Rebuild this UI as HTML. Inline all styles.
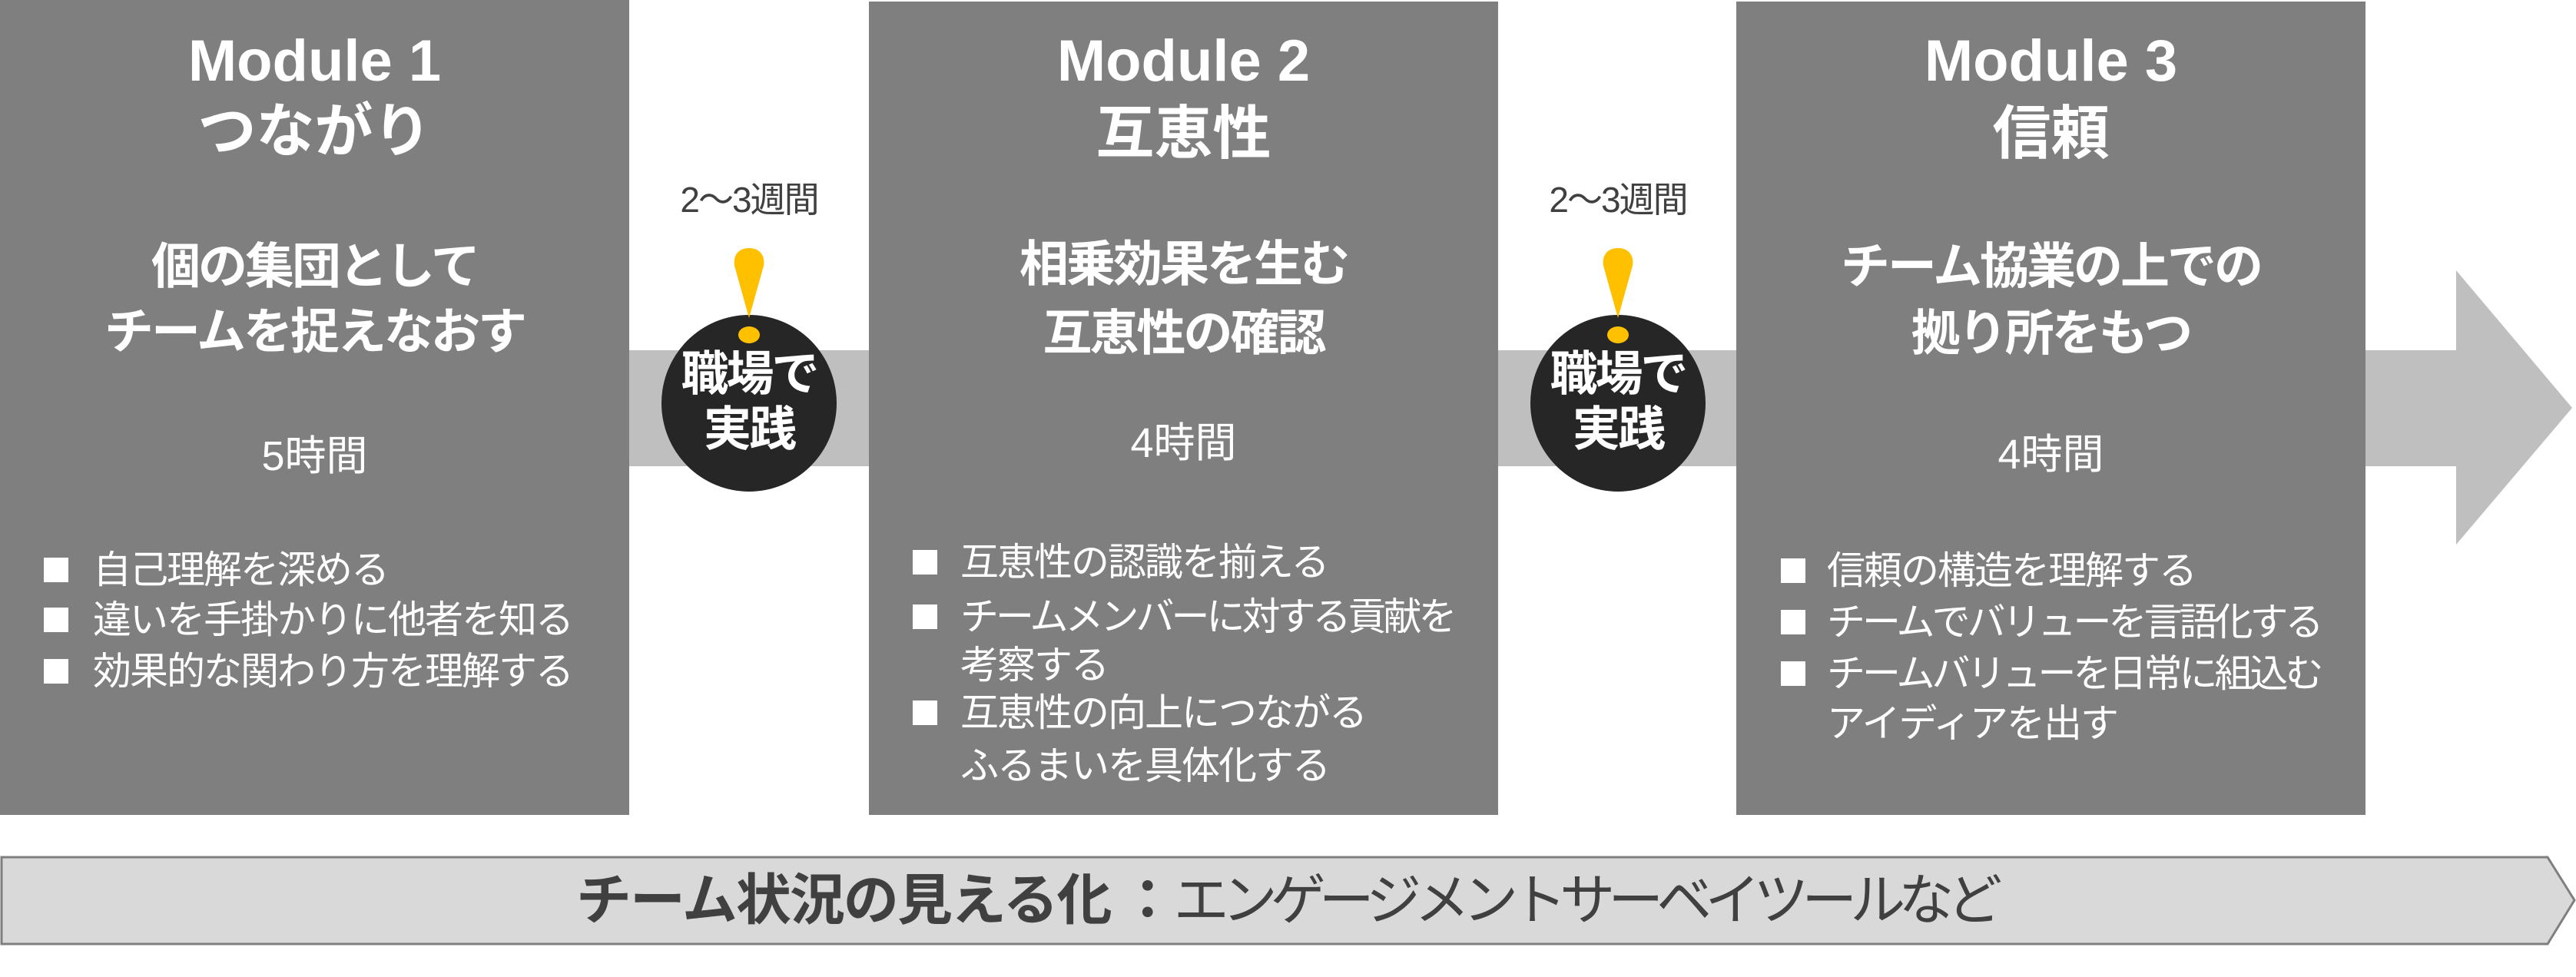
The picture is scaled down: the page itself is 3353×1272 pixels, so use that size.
<!DOCTYPE html>
<html><head><meta charset="utf-8"><style>
*{margin:0;padding:0;box-sizing:border-box}
body{width:3353px;height:1272px;background:#fff;position:relative;overflow:hidden;font-family:"Liberation Sans","Noto Sans CJK JP",sans-serif}
.a{position:absolute;white-space:nowrap}
.box{position:absolute;background:#7f7f7f;top:0;height:1061px;width:819px}
.c{position:absolute;text-align:center;color:#fff;width:819px;white-space:nowrap}
.t1{font-size:76px;font-weight:bold;line-height:90px}
.t2{font-size:64px;font-weight:bold;line-height:86px;letter-spacing:-3px}
.t3{font-size:54px;line-height:60px}
.li{position:absolute;color:#fff;font-size:50px;line-height:66px;letter-spacing:-2px;white-space:nowrap}
.sq{position:absolute;width:32px;height:32px;background:#fff}
.wk{position:absolute;font-size:46px;color:#404040;width:240px;text-align:center;line-height:50px;letter-spacing:-2px}
.circ{position:absolute;width:228px;height:230px;border-radius:50%;background:#262626;color:#fff;font-weight:bold;font-size:62px;text-align:center;line-height:72px;padding-top:42px;letter-spacing:-3px}
</style></head><body>
<svg class="a" style="left:0;top:0" width="3353" height="1272">
<rect x="819" y="456" width="2380" height="151" fill="#bfbfbf"/>
<polygon points="3197,352 3348,531 3197,709" fill="#bfbfbf"/>
<polygon points="2,1116 3316,1116 3351,1172 3316,1229 2,1229" fill="#d9d9d9" stroke="#7f7f7f" stroke-width="3"/>
</svg>
<div class="box" style="left:0"></div>
<div class="box" style="left:1131px;top:2px;height:1059px"></div>
<div class="box" style="left:2260px;top:2px;height:1059px"></div>

<!-- Module 1 -->
<div class="c t1" style="left:0;top:35px">Module 1</div>
<div class="c t1" style="left:0;top:127px">つながり</div>
<div class="c t2" style="left:0;top:304px">個の集団として</div>
<div class="c t2" style="left:0;top:389px">チームを捉えなおす</div>
<div class="c t3" style="left:0;top:564px">5時間</div>
<div class="sq" style="left:57px;top:726px"></div><div class="li" style="left:121px;top:709px">自己理解を深める</div>
<div class="sq" style="left:57px;top:791px"></div><div class="li" style="left:121px;top:774px">違いを手掛かりに他者を知る</div>
<div class="sq" style="left:57px;top:858px"></div><div class="li" style="left:121px;top:841px">効果的な関わり方を理解する</div>

<!-- Module 2 -->
<div class="c t1" style="left:1131px;top:35px">Module 2</div>
<div class="c t1" style="left:1131px;top:130px">互恵性</div>
<div class="c t2" style="left:1131px;top:301px">相乗効果を生む</div>
<div class="c t2" style="left:1131px;top:391px">互恵性の確認</div>
<div class="c t3" style="left:1131px;top:547px">4時間</div>
<div class="sq" style="left:1188px;top:716px"></div><div class="li" style="left:1250px;top:699px">互恵性の認識を揃える</div>
<div class="sq" style="left:1188px;top:787px"></div><div class="li" style="left:1250px;top:770px;letter-spacing:-4px">チームメンバーに対する貢献を</div>
<div class="li" style="left:1250px;top:833px">考察する</div>
<div class="sq" style="left:1188px;top:912px"></div><div class="li" style="left:1250px;top:895px">互恵性の向上につながる</div>
<div class="li" style="left:1250px;top:964px">ふるまいを具体化する</div>

<!-- Module 3 -->
<div class="c t1" style="left:2260px;top:35px">Module 3</div>
<div class="c t1" style="left:2260px;top:130px">信頼</div>
<div class="c t2" style="left:2260px;top:304px">チーム協業の上での</div>
<div class="c t2" style="left:2260px;top:391px">拠り所をもつ</div>
<div class="c t3" style="left:2260px;top:562px">4時間</div>
<div class="sq" style="left:2318px;top:727px"></div><div class="li" style="left:2378px;top:710px">信頼の構造を理解する</div>
<div class="sq" style="left:2318px;top:794px"></div><div class="li" style="left:2378px;top:777px;letter-spacing:-4px">チームでバリューを言語化する</div>
<div class="sq" style="left:2318px;top:861px"></div><div class="li" style="left:2378px;top:844px;letter-spacing:-4px">チームバリューを日常に組込む</div>
<div class="li" style="left:2378px;top:909px">アイディアを出す</div>

<!-- practice circles -->
<div class="wk" style="left:855px;top:235px">2〜3週間</div>
<div class="circ" style="left:861px;top:410px">職場で<br>実践</div>
<svg class="a" style="left:950px;top:320px" width="50" height="130"><path d="M25 3 C10 3 4 14 6 26 L25 94 L44 26 C46 14 40 3 25 3Z" fill="#ffc000"/><ellipse cx="25" cy="116" rx="14" ry="11" fill="#ffc000"/></svg>

<div class="wk" style="left:1986px;top:235px">2〜3週間</div>
<div class="circ" style="left:1992px;top:410px">職場で<br>実践</div>
<svg class="a" style="left:2081px;top:320px" width="50" height="130"><path d="M25 3 C10 3 4 14 6 26 L25 94 L44 26 C46 14 40 3 25 3Z" fill="#ffc000"/><ellipse cx="25" cy="116" rx="14" ry="11" fill="#ffc000"/></svg>

<div class="a" style="left:750px;top:1128px;font-size:72px;line-height:90px;color:#404040;letter-spacing:-2px"><b>チーム状況の見える化</b><span style="display:inline-block;width:12px"></span><b>：</b><span style="letter-spacing:-9px">エンゲージメントサーベイツールなど</span></div>
</body></html>
